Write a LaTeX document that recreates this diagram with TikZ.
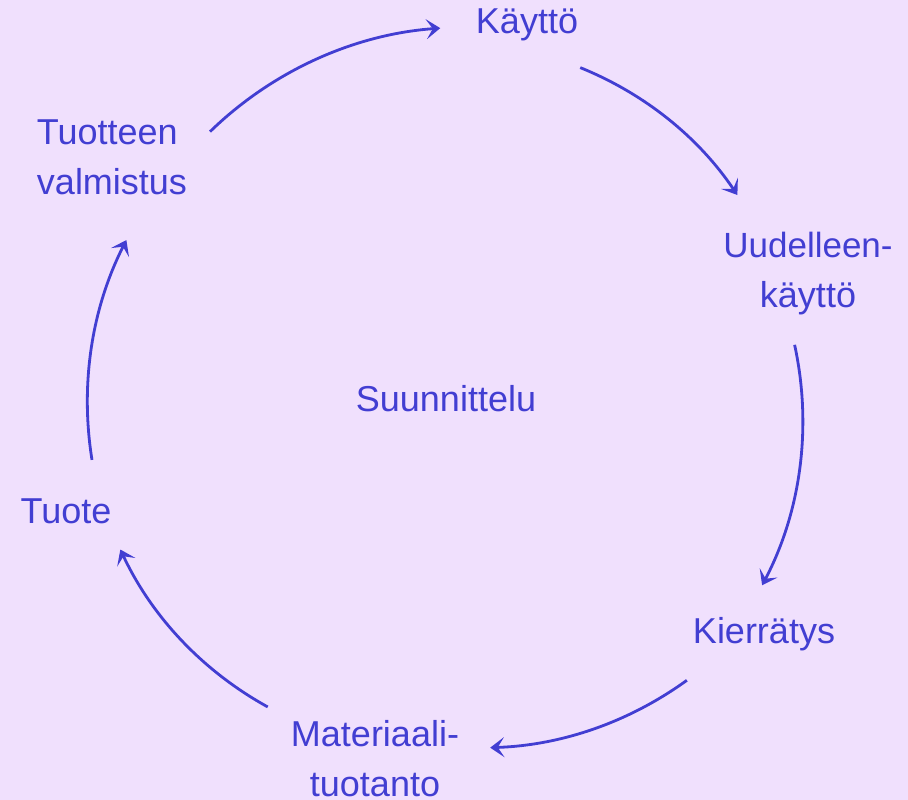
\documentclass[tikz,border=0pt]{standalone}
\usepackage{fontspec}
\setmainfont{Liberation Sans}
\usetikzlibrary{arrows.meta,calc}
\definecolor{lilac}{RGB}{240,224,253}
\definecolor{ink}{RGB}{66,62,210}
\tikzset{
    stage/.style={text=ink,font=\fontsize{36}{50}\selectfont,align=center,inner sep=0pt},
    cycle arrow/.style={draw=ink,line width=2.8pt,looseness=0.88,
        -{Stealth[length=14pt,width=20pt,inset=6.5pt]}}
}

\begin{document}
\begin{tikzpicture}[x=1pt,y=1pt]
    \fill[lilac] (0,0) rectangle (908,800);
    \useasboundingbox (0,0) rectangle (908,800);
    \coordinate (o) at (450,400);

    \node[stage] (suunnittelu) at (446,401) {Suunnittelu};
    \node[stage] (kaytto) at (527,775) {Käyttö};
    \node[stage] (uudelleen) at (808,526) {\fontsize{35}{50}\selectfont Uudelleen-\\käyttö};
    \node[stage] (kierratys) at (764,166) {Kierrätys};
    \node[stage] (materiaali) at (375,41) {Materiaali-\\tuotanto};
    \node[stage] (tuote) at (66,289) {Tuote};
    \node[stage,align=left] (valmistus) at (112,643) {Tuotteen\\valmistus};

    \coordinate (a1) at ($(o)+(131.8:360)$);
    \coordinate (b1) at ($(o)+(91.5:372)$);
    \coordinate (a2) at ($(o)+(68.6:357)$);
    \coordinate (b2) at ($(o)+(35.5:353)$);
    \coordinate (a3) at ($(o)+(9.1:349)$);
    \coordinate (b3) at ($(o)+(-30.7:363)$);
    \coordinate (a4) at ($(o)+(-49.8:367)$);
    \coordinate (b4) at ($(o)+(-83.4:350)$);
    \coordinate (a5) at ($(o)+(-120.7:357)$);
    \coordinate (b5) at ($(o)+(-155.6:362)$);
    \coordinate (a6) at ($(o)+(189.5:363)$);
    \coordinate (b6) at ($(o)+(153.7:361)$);

    \draw[cycle arrow] (a1) to[bend left=20] (b1);
    \draw[cycle arrow] (a2) to[bend left=17] (b2);
    \draw[cycle arrow] (a3) to[bend left=20] (b3);
    \draw[cycle arrow] (a4) to[bend left=17] (b4);
    \draw[cycle arrow] (a5) to[bend left=18] (b5);
    \draw[cycle arrow] (a6) to[bend left=18] (b6);
\end{tikzpicture}
\end{document}
